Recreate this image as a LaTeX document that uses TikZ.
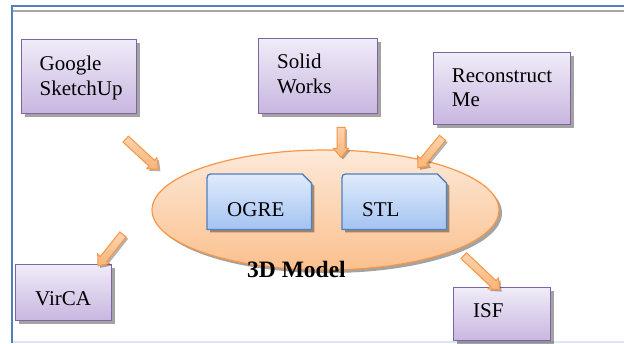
\documentclass[tikz,border=0pt]{standalone}
\usepackage{fontspec}
\setmainfont{Liberation Serif}
\usetikzlibrary{shapes.arrows,shapes.geometric,shadows}
\definecolor{frameB}{HTML}{4F81BD}
\definecolor{frameG}{HTML}{A6A6A6}
\definecolor{frameL}{HTML}{DCE6F2}
\definecolor{purpB}{HTML}{8064A2}
\definecolor{purpT}{HTML}{F0ECF8}
\definecolor{purpBot}{HTML}{C8B6E0}
\definecolor{orB}{HTML}{F79646}
\definecolor{orT}{HTML}{FDE9D8}
\definecolor{orBot}{HTML}{FBC08E}
\definecolor{arT}{HTML}{FCD3AE}
\definecolor{arBot}{HTML}{F9B57A}
\definecolor{blB}{HTML}{4F81BD}
\definecolor{blT}{HTML}{E0EBFB}
\definecolor{blBot}{HTML}{A4C3F2}
\newcommand\twolines[2]{\parbox[t]{4cm}{#1\\#2}}
\begin{document}
\begin{tikzpicture}[x=1pt,y=-1pt,
  shd/.style={drop shadow={shadow xshift=3pt,shadow yshift=-3pt,fill=black,opacity=.36}},
  pbox/.style={rectangle, draw=purpB, line width=1.3pt, top color=purpT, bottom color=purpBot, shd, inner sep=0pt, anchor=north west},
  bframe/.style={rectangle, inner sep=0pt, anchor=north west, minimum width=104pt, minimum height=55pt},
  bshape/.style={draw=blB, line width=1.3pt, top color=blT, bottom color=blBot, shd},
  barrow/.style={single arrow, draw=orB, line width=1pt, top color=arT, bottom color=arBot, minimum width=14pt, single arrow head extend=3.5pt, single arrow tip angle=80, inner xsep=0pt, inner ysep=3.5pt, drop shadow={shadow xshift=2pt,shadow yshift=-2pt,fill=black,opacity=.3}},
  txt/.style={inner sep=0pt, anchor=base west, font=\fontsize{21}{24.5}\selectfont},
  btxt/.style={inner sep=0pt, anchor=base west, font=\fontsize{23.5}{28}\selectfont\bfseries}
]
\useasboundingbox (0,0) rectangle (624,343);
% frame
\coordinate (ftl) at (11.5,6);
\coordinate (ftr) at (624,6);
\coordinate (fbl) at (11.5,343);
\coordinate (gl) at (12.5,11);
\coordinate (gr) at (624,11);
\coordinate (bl) at (12.5,342.2);
\coordinate (br) at (624,342.2);
\draw[frameG, line width=2pt] (gl) -- (gr);
\draw[frameL, line width=1.6pt] (bl) -- (br);
\draw[frameB, line width=2pt] (fbl) -- (ftl) -- (ftr);

% ellipse
\node[ellipse, draw=orB, line width=1.2pt, top color=orT, bottom color=orBot, shd, minimum width=347pt, minimum height=120pt, inner sep=0pt] (model) at (325.5,210) {};

% purple boxes
\node[pbox, minimum width=115pt, minimum height=74pt] (gs) at (21,39) {};
\node[pbox, minimum width=119pt, minimum height=75pt] (sw) at (258,38) {};
\node[pbox, minimum width=137pt, minimum height=72pt] (rm) at (433,52) {};
\node[pbox, minimum width=96pt, minimum height=56pt] (vc) at (15,264) {};
\node[pbox, minimum width=97pt, minimum height=53pt] (isf) at (453,287) {};

\node[txt] (gst) at (39.5,70.5) {\twolines{Google}{SketchUp}};
\node[txt] (swt) at (277,68.5) {\twolines{Solid}{Works}};
\node[txt] (rmt) at (451.7,82) {\twolines{Reconstruct}{Me}};
\node[txt] (vct) at (35,305) {VirCA};
\node[txt] (isft) at (473,317) {ISF};

% blue boxes
\node[bframe] (ogre) at (207,174) {};
\node[bframe] (stl) at (342,174) {};
\foreach \b in {ogre,stl}{
  \draw[bshape] (\b.south west) -- ([yshift=-8pt]\b.north west) .. controls (\b.north west) .. ([xshift=8pt]\b.north west) -- ([xshift=-9pt]\b.north east) -- ([yshift=-9pt]\b.north east) -- (\b.south east) -- cycle;
}
\node[txt] (ogret) at (227,216.7) {OGRE};
\node[txt] (stlt) at (362,216.5) {STL};
\node[btxt] (mt) at (247,277.3) {3D Model};

% block arrows
\node[barrow, rotate=-42.7, minimum height=44.5pt] (a1) at (140.3,152.6) {};
\node[barrow, rotate=-90, minimum height=30pt] (a2) at (341,140) {};
\node[barrow, rotate=-129.5, minimum height=38.9pt] (a3) at (431.7,151) {};
\node[barrow, rotate=-128.4, minimum height=40.2pt] (a4) at (112,248.3) {};
\node[barrow, rotate=-43.4, minimum height=49.5pt] (a5) at (480,271) {};
\end{tikzpicture}
\end{document}
